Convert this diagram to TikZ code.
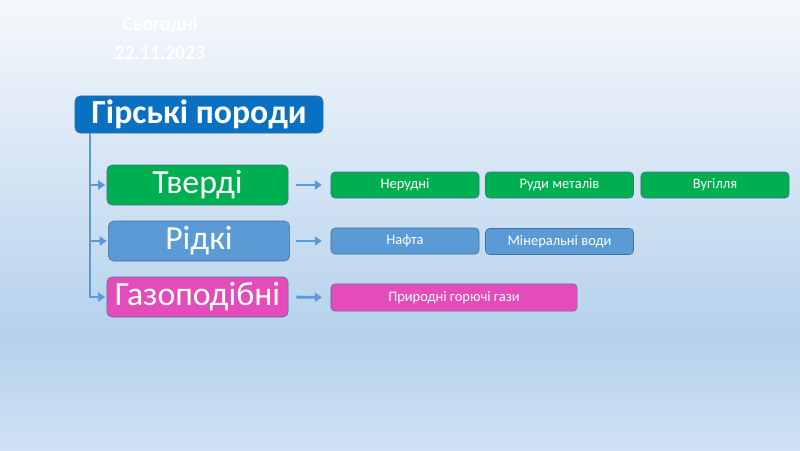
\documentclass[tikz,border=0pt]{standalone}
\usepackage{fontspec}
\setmainfont{Carlito}
\usepackage{xcolor}
\usetikzlibrary{arrows.meta,calc,positioning}
\definecolor{azularriba}{HTML}{E6EEF8}
\definecolor{azulfondo}{HTML}{B5D1EC}
\definecolor{azulclaro}{HTML}{D0E2F3}
\definecolor{azultitulo}{HTML}{0A70C2}
\definecolor{verde}{HTML}{00B050}
\definecolor{azul}{HTML}{5B9BD5}
\definecolor{rosa}{HTML}{E44DB9}
\definecolor{borde}{HTML}{41719C}
\tikzset{
  grande/.style={draw=borde,thin,rounded corners=0.13cm,minimum width=4.53cm,minimum height=1cm,inner sep=0pt,text=white,font=\fontsize{24}{24}\selectfont},
  chico/.style={draw=borde,thin,rounded corners=0.1cm,minimum width=3.7cm,minimum height=0.65cm,inner sep=0pt,text=white,font=\fontsize{10.3}{12}\selectfont},
  flecha/.style={-{Triangle[length=5pt,width=6.5pt]},azul,line width=2pt}
}
\begin{document}
\begin{tikzpicture}[x=0.025cm,y=-0.025cm]
% fondo
\useasboundingbox (0,0) rectangle (800,450);
\shade[top color=azularriba!40!white,bottom color=azulfondo] (0,0) rectangle (800,340);
\shade[top color=azulfondo,bottom color=azulclaro] (0,340) rectangle (800,450);
% fecha
\node[text=white,font=\fontsize{14}{14}\selectfont\bfseries] (hoy) at (160,25) {Сьогодні};
\node[text=white,font=\fontsize{14}{14}\selectfont\bfseries] (fecha) at (160,53) {22.11.2023};
% titulo
\node[grande,fill=azultitulo,minimum width=6.2cm,minimum height=0.93cm,font=\fontsize{24}{24}\selectfont\bfseries] (titulo) at (199,114.5) {Гірські породи};
% grupos
\node[grande,fill=verde] (solido) at (197.5,185) {Тверді};
\node[grande,fill=azul] (liquido) at (199,241) {Рідкі};
\node[grande,fill=rosa] (gas) at (197.5,297) {Газоподібні};
% tipos
\node[chico,fill=verde] (nerudni) at (405,185) {Нерудні};
\node[chico,fill=verde] (rudy) at (559.5,185) {Руди металів};
\node[chico,fill=verde] (vuhillia) at (715,185) {Вугілля};
\node[chico,fill=azul] (nafta) at (405,241) {Нафта};
\node[chico,fill=azul] (vody) at (559.5,241.5) {Мінеральні води};
\node[chico,fill=rosa,minimum width=6.15cm,minimum height=0.68cm] (gazy) at (454,297.5) {Природні горючі гази};
% ramas
\coordinate (tronco) at (90,133);
\draw[flecha,shorten >=1pt] (tronco) |- (gas.west);
\draw[flecha,shorten >=1pt] (tronco |- solido.west) -- (solido.west);
\draw[flecha,shorten >=1pt] (tronco |- liquido.west) -- (liquido.west);
\draw[flecha,shorten <=0.2cm,shorten >=0.22cm] (solido.east) -- (nerudni.west);
\draw[flecha,shorten <=0.16cm,shorten >=0.22cm] (liquido.east) -- (nafta.west);
\draw[flecha,shorten <=0.2cm,shorten >=0.22cm] (gas.east) -- (gazy.west);
\end{tikzpicture}
\end{document}
